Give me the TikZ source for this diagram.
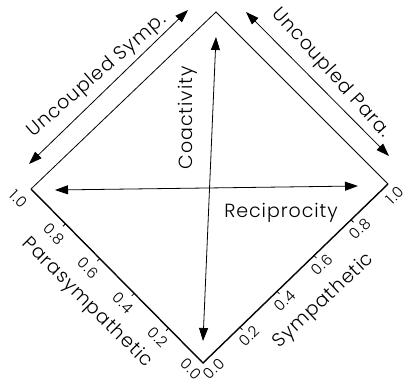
\documentclass[tikz,border=0pt]{standalone}
\usepackage{fontspec}
\IfFontExistsTF{Poppins Light}{\setmainfont{Poppins Light}[LetterSpace=5]}{\setmainfont{Poppins}[LetterSpace=5]}
\usetikzlibrary{arrows.meta,calc}
\begin{document}
\begin{tikzpicture}[x=1pt,y=-1pt,
  dbl/.style={{Triangle[length=13pt,width=9pt]}-{Triangle[length=13pt,width=9pt]}, line width=0.8pt},
  edge/.style={line width=0.8pt},
  axisedge/.style={line width=1.4pt},
  tickmark/.style={line width=0.8pt},
  lab/.style={font=\fontsize{19}{19}\selectfont, inner sep=0pt},
  tick/.style={font=\fontsize{15}{15}\selectfont, inner sep=0pt}]
\useasboundingbox (0,0) rectangle (409,380);
% vertices
\coordinate (T) at (216,12);
\coordinate (L) at (31,189);
\coordinate (R) at (388,184);
\coordinate (B) at (203,363);
% arrow ends
\coordinate (hl) at (55,190);
\coordinate (hr) at (358,186);
\coordinate (vt) at (216,37);
\coordinate (vb) at (203,341);
\coordinate (sl) at (29,164);
\coordinate (su) at (188,10);
\coordinate (pu) at (246,12);
\coordinate (pl) at (389,156);
% diamond
\draw[edge] (L) -- (T) -- (R);
\draw[axisedge] (L) -- (B) -- (R);
% tick marks
\foreach \f in {0.2,0.4,0.6,0.8}{
  \draw[tickmark] ($(B)!\f!(L)$) -- ++(-2.5,2.5);
  \draw[tickmark] ($(B)!\f!(R)$) -- ++(2.5,2.5);
}
% arrows
\draw[dbl] (hl) -- (hr);
\draw[dbl] (vt) -- (vb);
\draw[dbl] (sl) -- (su);
\draw[dbl] (pu) -- (pl);
% labels
\node[lab, rotate=41] (us) at (97,76) {Uncoupled Symp.};
\node[lab, rotate=-48] (up) at (331,73) {Uncoupled Para.};
\node[lab, rotate=90] (co) at (188,118) {Coactivity};
\node[lab] (re) at (281,213) {Reciprocity};
\node[lab, rotate=-45] (pa) at (87,303) {Parasympathetic};
\node[lab, rotate=43] (sy) at (324,301) {Sympathetic};
% ticks parasympathetic
\node[tick, rotate=-45] (p10) at (19,199) {1.0};
\node[tick, rotate=-45] (p08) at (54,234) {0.8};
\node[tick, rotate=-45] (p06) at (88,268) {0.6};
\node[tick, rotate=-45] (p04) at (123,303) {0.4};
\node[tick, rotate=-45] (p02) at (158,337) {0.2};
\node[tick, rotate=-45] (p00) at (191,369) {0.0};
% ticks sympathetic
\node[tick, rotate=45] (s00) at (214,369) {0.0};
\node[tick, rotate=45] (s02) at (249,336) {0.2};
\node[tick, rotate=45] (s04) at (285,301) {0.4};
\node[tick, rotate=45] (s06) at (322,265) {0.6};
\node[tick, rotate=45] (s08) at (360,229) {0.8};
\node[tick, rotate=45] (s10) at (395,195) {1.0};
\end{tikzpicture}
\end{document}
